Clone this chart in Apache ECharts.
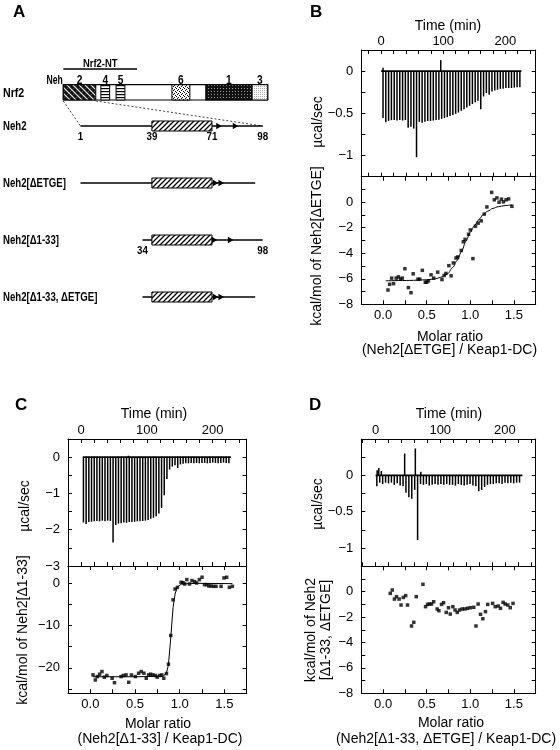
<!DOCTYPE html>
<html><head><meta charset="utf-8">
<script src="https://cdn.jsdelivr.net/npm/echarts@6/dist/echarts.min.js"></script>
<style>html,body{margin:0;padding:0;background:#fff}#c{width:560px;height:750px}</style>
</head><body><div id="c"></div>
<script>
// ---------------- Panel A (schematic) data ----------------
const nrf2Length = 605;
const nrf2Domains = [ // [label, start, end, pattern]
  ['2', 1, 97, 'cross'],
  ['4', 112, 138, 'hstripe'],
  ['5', 157, 183, 'hstripe'],
  ['6', 322, 375, 'stipple'],
  ['1', 422, 559, 'darkdots'],
  ['3', 559, 605, 'lightdots']
];
const nrf2NT = [1, 219];
const constructNames = ['Neh2', 'Neh2[\u0394ETGE]', 'Neh2[\u03941-33]', 'Neh2[\u03941-33, \u0394ETGE]'];
const constructStart = [1, 1, 34, 34];
const constructEnd = [98, 94, 98, 94];
const boxRange = [39, 71];
const constructArrows = [[76.2, 85], [74.4, 77.4], [73.8, 82.4], [74.4, 77.4]];
const residueLabels = [[0, 1, '1'], [0, 39, '39'], [0, 71, '71'], [0, 98, '98'], [2, 34, '34'], [2, 98, '98']];

// ---------------- Axis tick/label values ----------------
const timeLabels = [0, 100, 200];
const timeTicks = [-20, 0, 20, 40, 60, 80, 100, 120, 140, 160, 180, 200, 220, 240];
const ratioLabels = [0, 0.5, 1, 1.5];
const ratioTicks = [0, 0.25, 0.5, 0.75, 1, 1.25, 1.5];
const bPowerLabels = [0, -0.5, -1];
const bPowerTicks = [-1, -0.75, -0.5, -0.25, 0];
const heat8Labels = [0, -2, -4, -6, -8];
const heat8Ticks = [-7, -6, -5, -4, -3, -2, -1, 0, 1];
const cPowerLabels = [0, -1, -2, -3];
const cPowerTicks = [-2.5, -2, -1.5, -1, -0.5, 0];
const cHeatLabels = [0, -10, -20];
const cHeatTicks = [-25, -20, -15, -10, -5, 0];
const dPowerLabels = [0, -0.5, -1];
const dPowerTicks = [-1, -0.75, -0.5, -0.25, 0, 0.25];

// ---------------- Panel B data ----------------
const bTime = [3,7.5,12,16.5,21,25.5,30,34.5,39,43.5,48,52.5,57,61.5,66,70.5,75,79.5,84,88.5,93,97.5,102,106.5,111,115.5,120,124.5,129,133.5,138,142.5,147,151.5,156,160.5,165,169.5,174,178.5,183,187.5,192,196.5,201,205.5,210,214.5,219,223.5];
const bPeak = [-0.555,-0.605,-0.59,-0.58,-0.58,-0.585,-0.58,-0.585,-0.58,-0.67,
  -0.66,-0.68,-1.02,-0.6,-0.61,-0.6,-0.59,-0.59,-0.585,-0.58,
  -0.575,-0.565,-0.555,-0.545,-0.53,-0.52,-0.505,-0.49,-0.47,-0.45,
  -0.43,-0.41,-0.39,-0.37,-0.35,-0.45,-0.3,-0.26,-0.28,-0.24,
  -0.23,-0.22,-0.21,-0.21,-0.2,-0.2,-0.2,-0.195,-0.19,-0.19];
const bUp = [[3, 0.04], [96, 0.13]];
const bBase = [0, 226];
const bRatio = [0.056,0.075,0.098,0.12,0.15,0.176,0.2,0.22,0.25,0.29,0.32,0.345,0.40,0.42,0.45,0.484,0.50,0.52,0.55,0.58,0.626,0.675,0.70,0.72,0.754,0.78,0.806,0.836,0.855,0.896,0.92,0.94,0.98,1.0,1.03,1.06,1.09,1.125,1.16,1.19,1.245,1.275,1.305,1.33,1.357,1.38,1.41,1.44,1.477];
const bHeat = [-6.88,-6.43,-5.95,-6.38,-5.95,-5.85,-6.03,-5.95,-5.21,-6.69,-7.09,-5.61,-6.03,-6.03,-5.34,-6.27,-6.27,-6.16,-5.69,-5.95,-5.48,-6.06,-5.74,-5.58,-4.97,-5.77,-4.76,-4.37,-4.29,-3.78,-3.1,-2.91,-2.51,-2.17,-4.42,-1.88,-1.64,-1.46,-0.93,-0.37,0.77,0.19,0.34,0.0,0.24,0.03,0.19,0.26,-0.32];
const bFitRatio = [0.03,0.3,0.5,0.6,0.68,0.74,0.8,0.85,0.9,0.95,1.0,1.05,1.1,1.15,1.2,1.26,1.32,1.4,1.48];
const bFitHeat = [-6.16,-6.13,-6.08,-6.0,-5.85,-5.6,-5.1,-4.55,-3.85,-3.05,-2.35,-1.8,-1.35,-0.95,-0.7,-0.48,-0.35,-0.26,-0.21];

// ---------------- Panel C data ----------------
const cTime = [3.5,7.6,11.7,15.8,19.9,24,28.1,32.2,36.3,40.4,44.5,48.6,52.7,56.8,60.9,65,69.1,73.2,77.3,81.4,85.5,89.6,93.7,97.8,101.9,106,110.1,114.2,118.3,122.4,126.5,130.6,134.7,138.8,142.9,147,151.1,155.2,159.3,163.4,167.5,171.6,175.7,179.8,183.9,188,192.1,196.2,200.3,204.4,208.5,212.6,216.7,220.8,224.9];
const cPeak = [-1.8,-1.84,-1.79,-1.78,-1.77,-1.76,-1.77,-1.75,-1.77,-1.75,
  -1.76,-2.35,-1.87,-1.83,-1.82,-1.8,-1.81,-1.79,-1.79,-1.78,
  -1.77,-1.77,-1.76,-1.75,-1.73,-1.7,-1.67,-1.63,-1.55,-1.4,
  -1.05,-0.6,-0.34,-0.26,-0.22,-0.3,-0.2,-0.18,-0.17,-0.17,
  -0.16,-0.17,-0.16,-0.17,-0.16,-0.16,-0.17,-0.16,-0.15,-0.16,
  -0.17,-0.16,-0.15,-0.16,-0.17];
const cUp = [[72, 0.04]];
const cBase = [2.5, 228];
const cRatio = [0.03,0.056,0.078,0.104,0.13,0.156,0.185,0.244,0.27,0.344,0.37,0.4,0.43,0.46,0.504,0.54,0.57,0.6,0.626,0.652,0.674,0.7,0.726,0.748,0.774,0.8,0.822,0.852,0.874,0.9,0.926,0.948,0.974,1.015,1.037,1.056,1.08,1.11,1.137,1.167,1.19,1.22,1.25,1.278,1.304,1.326,1.35,1.378,1.407,1.463,1.496,1.526,1.556,1.59];
const cHeat = [-21.67,-22.86,-22.06,-21.5,-20.87,-22.2,-21.8,-22.46,-23.5,-22.06,-21.8,-21.67,-23.4,-21.67,-22.06,-21.27,-20.87,-21.27,-22.46,-21.67,-21.5,-21.67,-21.8,-22.2,-21.8,-21.67,-22.46,-21.35,-19.13,-12.38,-3.97,-1.43,-1.03,0.16,0.08,-0.24,0.79,-0.24,0.56,0.32,0,0.79,1.35,-0.4,-0.4,-0.71,-0.71,-0.79,-0.79,-0.79,1.19,1.35,-1.03,-0.79];
const cFitRatio = [0.03,0.5,0.815,0.852,0.874,0.9,0.926,0.948,0.974,1.02,1.19,1.59];
const cFitHeat = [-22.1,-22.1,-22.0,-21.2,-19.3,-12.9,-5.8,-2.6,-1.0,-0.24,-0.08,-0.16];

// ---------------- Panel D data ----------------
const dTime = [2,6.5,11,15.5,20,24.5,29,33.5,38,42.5,47,51.5,56,60.5,65,69.5,74,78.5,83,87.5,92,96.5,101,105.5,110,114.5,119,123.5,128,132.5,137,141.5,146,150.5,155,159.5,164,168.5,173,177.5,182,186.5,191,195.5,200,204.5,209,213.5,218,222.5];
const dPeak = [-0.15,-0.1,-0.12,-0.1,-0.11,-0.1,-0.13,-0.11,-0.14,-0.15,
  -0.24,-0.3,-0.32,-0.2,-0.89,-0.12,-0.13,-0.12,-0.14,-0.13,
  -0.12,-0.13,-0.12,-0.13,-0.12,-0.13,-0.13,-0.14,-0.12,-0.13,
  -0.14,-0.13,-0.12,-0.14,-0.15,-0.22,-0.2,-0.16,-0.13,-0.12,
  -0.12,-0.11,-0.11,-0.12,-0.1,-0.11,-0.1,-0.11,-0.1,-0.1];
const dUp = [[2.5, 0.07], [5, 0.1], [9, 0.06], [45, 0.3], [61.5, 0.37], [70, 0.05]];
const dBase = [0, 227];
const dRatio = [0.082,0.105,0.13,0.154,0.184,0.206,0.232,0.259,0.28,0.326,0.352,0.38,0.457,0.487,0.51,0.532,0.555,0.58,0.62,0.64,0.67,0.694,0.724,0.75,0.77,0.8,0.825,0.85,0.877,0.907,0.937,0.967,1.0,1.04,1.065,1.09,1.117,1.144,1.174,1.2,1.256,1.286,1.32,1.346,1.376,1.4,1.43,1.458,1.49];
const dHeat = [-0.13,0.13,-0.58,-0.39,-0.58,-1.05,-0.45,-0.31,-1.05,-2.7,-2.41,-0.39,0.58,-1.18,-1.0,-0.97,-0.97,-0.79,-1.36,-1.5,-1.0,-0.87,-1.63,-1.26,-1.76,-1.18,-1.44,-1.63,-1.44,-1.36,-1.36,-1.31,-1.26,-1.23,-2.7,-0.97,-1.78,-2.13,-1.57,-1.0,-0.92,-1.18,-1.13,-1.31,-0.84,-0.97,-1.05,-1.26,-0.92];

// ---------------- helpers ----------------
const FF = "'Liberation Sans', Arial, Helvetica, sans-serif";
const fmtNum = v => v === 0 ? '0' : (v < 0 ? '\u2212' : '') + String(Math.abs(v));
const fmtRatio = v => Number(v).toFixed(1);
const pairs = (xs, ys) => xs.map((x, i) => [x, ys[i]]);

function makePattern(w, h, draw) {
  const c = document.createElement('canvas'); c.width = w; c.height = h;
  const g = c.getContext('2d'); draw(g, w, h);
  return { image: c, repeat: 'repeat' };
}
const patterns = {
  cross: makePattern(6, 6, (g, w, h) => {
    g.fillStyle = '#111'; g.fillRect(0, 0, w, h);
    g.strokeStyle = '#eee'; g.lineWidth = 1.1; g.beginPath();
    g.moveTo(-1, -1); g.lineTo(7, 7); g.moveTo(-4, 2); g.lineTo(2, 8); g.moveTo(2, -4); g.lineTo(8, 2); g.stroke();
    g.strokeStyle = '#777'; g.lineWidth = 0.6; g.beginPath(); g.moveTo(0, 6); g.lineTo(6, 0); g.stroke();
  }),
  hstripe: makePattern(2, 3, (g, w, h) => { g.fillStyle = '#fff'; g.fillRect(0, 0, w, h); g.fillStyle = '#000'; g.fillRect(0, 1, w, 1.2); }),
  stipple: makePattern(4, 4, (g) => { g.fillStyle = '#fff'; g.fillRect(0, 0, 4, 4); g.fillStyle = '#000'; [[0,0],[2,1],[1,2],[3,3]].forEach(p => g.fillRect(p[0], p[1], 1, 1)); }),
  darkdots: makePattern(3, 3, (g) => { g.fillStyle = '#111'; g.fillRect(0, 0, 3, 3); g.fillStyle = '#999'; g.fillRect(1, 1, 1, 1); }),
  lightdots: makePattern(2, 2, (g) => { g.fillStyle = '#fff'; g.fillRect(0, 0, 2, 2); g.fillStyle = '#aaa'; g.fillRect(0, 0, 1, 1); }),
  hatch: makePattern(5, 5, (g) => {
    g.fillStyle = '#fff'; g.fillRect(0, 0, 5, 5); g.strokeStyle = '#000'; g.lineWidth = 1.3; g.beginPath();
    g.moveTo(0, 5); g.lineTo(5, 0); g.moveTo(-1, 1); g.lineTo(1, -1); g.moveTo(4, 6); g.lineTo(6, 4); g.stroke();
  })
};

// condensed bold label for the schematic
function cText(text, x, y, size, sx, align, va) {
  return { type: 'text', x: x, y: y, scaleX: sx, silent: true,
    style: { text: text, x: 0, y: 0, font: 'bold ' + size + 'px ' + FF, fill: '#000',
      align: align, textAlign: align, verticalAlign: va, textVerticalAlign: va } };
}

function frameAxis(grid, min, max, pos, ticks, labels, fmt, margin) {
  return {
    type: 'value', gridIndex: grid, min: min, max: max, position: pos,
    axisLine: { show: true, onZero: false, lineStyle: { color: '#000', width: 1 } },
    splitLine: { show: false },
    axisTick: { show: true, inside: true, length: 4, customValues: ticks, lineStyle: { color: '#000', width: 1 } },
    axisLabel: labels ? { show: true, customValues: labels, formatter: fmt, color: '#000', fontSize: 13, fontFamily: FF, margin: margin } : { show: false },
    axisPointer: { show: false }
  };
}

// grid rectangles
const grids = [
  { left: 63.3, top: 84.7, width: 204.4, height: 15.3 },   // 0 Nrf2 bar
  { left: 80.5, top: 97.5, width: 182.2, height: 228 },    // 1 constructs
  { left: 361.3, top: 50, width: 174.4, height: 126.7 },   // 2 B top
  { left: 361.3, top: 176.7, width: 174.4, height: 127.6 },// 3 B bottom
  { left: 68, top: 439, width: 178.7, height: 127 },       // 4 C top
  { left: 68, top: 566, width: 178.7, height: 127.3 },     // 5 C bottom
  { left: 361.3, top: 439, width: 174.4, height: 127.3 },  // 6 D top
  { left: 361.3, top: 566.3, width: 174.4, height: 127 }   // 7 D bottom
];
const rowLabelX = 3;

const tRangeB = [-32, 249], tRangeC = [-20, 252], tRangeD = [-22, 247.5];
const rRange = [-0.25, 1.75];

const xAxes = [
  { type: 'value', gridIndex: 0, min: 1, max: nrf2Length, show: false },
  { type: 'value', gridIndex: 1, min: 1, max: 98, show: false },
  frameAxis(2, tRangeB[0], tRangeB[1], 'top', timeTicks, timeLabels, fmtNum, 2),
  frameAxis(2, tRangeB[0], tRangeB[1], 'bottom', timeTicks, null),
  frameAxis(3, rRange[0], rRange[1], 'bottom', ratioTicks, ratioLabels, fmtRatio, 5),
  frameAxis(3, rRange[0], rRange[1], 'top', ratioTicks, null),
  frameAxis(4, tRangeC[0], tRangeC[1], 'top', timeTicks, timeLabels, fmtNum, 2),
  frameAxis(4, tRangeC[0], tRangeC[1], 'bottom', timeTicks, null),
  frameAxis(5, rRange[0], rRange[1], 'bottom', ratioTicks, ratioLabels, fmtRatio, 5),
  frameAxis(5, rRange[0], rRange[1], 'top', ratioTicks, null),
  frameAxis(6, tRangeD[0], tRangeD[1], 'top', timeTicks, timeLabels, fmtNum, 2),
  frameAxis(6, tRangeD[0], tRangeD[1], 'bottom', timeTicks, null),
  frameAxis(7, rRange[0], rRange[1], 'bottom', ratioTicks, ratioLabels, fmtRatio, 5),
  frameAxis(7, rRange[0], rRange[1], 'top', ratioTicks, null)
];
const yAxes = [
  { type: 'category', gridIndex: 0, data: ['Nrf2'], show: false },
  { type: 'category', gridIndex: 1, data: constructNames, inverse: true, show: false },
  frameAxis(2, -1.25, 0.25, 'left', bPowerTicks, bPowerLabels, fmtNum, 8),
  frameAxis(2, -1.25, 0.25, 'right', bPowerTicks, null),
  frameAxis(3, -8, 2, 'left', heat8Ticks, heat8Labels, fmtNum, 8),
  frameAxis(3, -8, 2, 'right', heat8Ticks, null),
  frameAxis(4, -3, 0.5, 'left', cPowerTicks, cPowerLabels, fmtNum, 8),
  frameAxis(4, -3, 0.5, 'right', cPowerTicks, null),
  frameAxis(5, -26, 4, 'left', cHeatTicks, cHeatLabels, fmtNum, 8),
  frameAxis(5, -26, 4, 'right', cHeatTicks, null),
  frameAxis(6, -1.25, 0.5, 'left', dPowerTicks, dPowerLabels, fmtNum, 8),
  frameAxis(6, -1.25, 0.5, 'right', dPowerTicks, null),
  frameAxis(7, -8, 2, 'left', heat8Ticks, heat8Labels, fmtNum, 8),
  frameAxis(7, -8, 2, 'right', heat8Ticks, null)
];

function thermoSeries(ax, times, peaks, ups, base) {
  return [
    { type: 'bar', xAxisIndex: ax, yAxisIndex: ax, data: pairs(times, peaks).concat(ups), barWidth: 1.5, itemStyle: { color: '#000' }, silent: true, z: 2 },
    { type: 'line', xAxisIndex: ax, yAxisIndex: ax, data: [[base[0], 0], [base[1], 0]], showSymbol: false, lineStyle: { color: '#000', width: 1.6 }, silent: true, z: 3 }
  ];
}
function isoSeries(ax, rs, hs, fitR, fitH, smooth) {
  const s = [{ type: 'scatter', xAxisIndex: ax, yAxisIndex: ax, data: pairs(rs, hs), symbol: 'rect', symbolSize: 3.5, itemStyle: { color: '#000' }, silent: true, z: 4 }];
  if (fitR) s.push({ type: 'line', xAxisIndex: ax, yAxisIndex: ax, data: pairs(fitR, fitH), showSymbol: false, smooth: smooth, smoothMonotone: 'x', lineStyle: { color: '#000', width: 1 }, silent: true, z: 3 });
  return s;
}

const schematicSeries = [
  { // Nrf2 outer bar
    type: 'custom', xAxisIndex: 0, yAxisIndex: 0, data: [[1, nrf2Length, 0]], encode: { x: [0, 1], y: 2 }, silent: true, z: 1,
    renderItem: (p, api) => {
      const a = api.coord([api.value(0), api.value(2)]), b = api.coord([api.value(1), api.value(2)]);
      const h = api.size([0, 1])[1];
      return { type: 'group', children: [
        { type: 'rect', shape: { x: a[0], y: a[1] - h / 2, width: b[0] - a[0], height: h }, style: { fill: '#fff', stroke: '#000', lineWidth: 1.2 } },
        cText('Neh', a[0] - 0.5, a[1] - h / 2 + 2, 12, 0.72, 'right', 'bottom'),
        cText('Nrf2', rowLabelX, a[1] + 1, 12.5, 0.85, 'left', 'middle')
      ] };
    }
  },
  { // domains
    type: 'custom', xAxisIndex: 0, yAxisIndex: 0, data: nrf2Domains.map(d => [d[1], d[2], 0]), encode: { x: [0, 1], y: 2 }, silent: true, z: 2,
    renderItem: (p, api) => {
      const d = nrf2Domains[p.dataIndex];
      const a = api.coord([api.value(0), api.value(2)]), b = api.coord([api.value(1), api.value(2)]);
      const h = api.size([0, 1])[1];
      return { type: 'group', children: [
        { type: 'rect', shape: { x: a[0], y: a[1] - h / 2, width: b[0] - a[0], height: h }, style: { fill: patterns[d[3]], stroke: '#000', lineWidth: 1 } },
        cText(d[0], (a[0] + b[0]) / 2, a[1] - h / 2 + 2, 12, 0.85, 'center', 'bottom')
      ] };
    }
  },
  { // Nrf2-NT bracket
    type: 'custom', xAxisIndex: 0, yAxisIndex: 0, data: [[nrf2NT[0], nrf2NT[1], 0]], encode: { x: [0, 1], y: 2 }, silent: true, z: 2,
    renderItem: (p, api) => {
      const a = api.coord([api.value(0), api.value(2)]), b = api.coord([api.value(1), api.value(2)]);
      const h = api.size([0, 1])[1];
      const y = a[1] - h / 2 - 15.7;
      return { type: 'group', children: [
        { type: 'line', shape: { x1: a[0], y1: y, x2: b[0], y2: y }, style: { stroke: '#000', lineWidth: 1.5 } },
        cText('Nrf2-NT', (a[0] + b[0]) / 2, y + 1, 11.5, 0.82, 'center', 'bottom')
      ] };
    }
  },
  { // constructs
    type: 'custom', xAxisIndex: 1, yAxisIndex: 1, data: constructNames.map((n, i) => [constructStart[i], constructEnd[i], i]), encode: { x: [0, 1], y: 2 }, silent: true, z: 2,
    renderItem: (p, api) => {
      const row = api.value(2);
      const a = api.coord([api.value(0), row]), b = api.coord([api.value(1), row]);
      const bs = api.coord([boxRange[0], row]), be = api.coord([boxRange[1], row]);
      const y = a[1];
      const kids = [
        { type: 'line', shape: { x1: a[0], y1: y, x2: b[0], y2: y }, style: { stroke: '#000', lineWidth: 1.6 } },
        { type: 'rect', shape: { x: bs[0], y: y - 5, width: be[0] - bs[0], height: 10 }, style: { fill: patterns.hatch, stroke: '#000', lineWidth: 1 } },
        cText(constructNames[p.dataIndex], rowLabelX, y + 1, 12, 0.8, 'left', 'middle')
      ];
      constructArrows[p.dataIndex].forEach(r => {
        const t = api.coord([r, row])[0];
        kids.push({ type: 'polygon', shape: { points: [[t - 5.5, y - 3.2], [t, y], [t - 5.5, y + 3.2]] }, style: { fill: '#000' } });
      });
      return { type: 'group', children: kids };
    }
  },
  { // residue numbers
    type: 'custom', xAxisIndex: 1, yAxisIndex: 1, data: residueLabels.map(d => [d[1], d[0]]), encode: { x: 0, y: 1 }, silent: true, z: 2,
    renderItem: (p, api) => {
      const c = api.coord([api.value(0), api.value(1)]);
      return cText(residueLabels[p.dataIndex][2], c[0], c[1] + 5, 11.5, 0.85, 'center', 'top');
    }
  }
];

const series = [].concat(
  schematicSeries,
  thermoSeries(2, bTime, bPeak, bUp, bBase),
  isoSeries(4, bRatio, bHeat, bFitRatio, bFitHeat, 0.3),
  thermoSeries(6, cTime, cPeak, cUp, cBase),
  isoSeries(8, cRatio, cHeat, cFitRatio, cFitHeat, false),
  thermoSeries(10, dTime, dPeak, dUp, dBase),
  isoSeries(12, dRatio, dHeat, null, null, false)
);

const chart = echarts.init(document.getElementById('c'), null, { renderer: 'canvas' });
chart.setOption({
  animation: false,
  backgroundColor: '#fff',
  textStyle: { fontFamily: FF },
  grid: grids,
  xAxis: xAxes,
  yAxis: yAxes,
  series: series
});

// ---------------- text & dashed zoom lines ----------------
function txt(text, x, y, size, opts) {
  opts = opts || {};
  return {
    type: 'text', x: x, y: y, rotation: opts.rot ? Math.PI / 2 : 0, silent: true,
    style: { text: text, font: (opts.bold ? 'bold ' : '') + size + 'px ' + FF, fill: '#000',
      align: opts.align || 'center', textAlign: opts.align || 'center',
      verticalAlign: opts.va || 'middle', textVerticalAlign: opts.va || 'middle' }
  };
}
const nStart = chart.convertToPixel({ xAxisIndex: 0, yAxisIndex: 0 }, [nrf2Domains[0][1], 0]);
const nEnd = chart.convertToPixel({ xAxisIndex: 0, yAxisIndex: 0 }, [nrf2Domains[0][2], 0]);
const barBottom = nStart[1] + grids[0].height / 2;
const cS = chart.convertToPixel({ xAxisIndex: 1, yAxisIndex: 1 }, [constructStart[0], 0]);
const cE = chart.convertToPixel({ xAxisIndex: 1, yAxisIndex: 1 }, [constructEnd[0], 0]);
const dash = { stroke: '#444', lineWidth: 1, lineDash: [2, 2] };

chart.setOption({
  graphic: [
    { type: 'line', silent: true, shape: { x1: nStart[0], y1: barBottom + 1, x2: cS[0], y2: cS[1] }, style: dash },
    { type: 'line', silent: true, shape: { x1: nEnd[0], y1: barBottom + 1, x2: cE[0], y2: cE[1] }, style: dash },
    txt('A', 13, 4, 17, { bold: true, align: 'left', va: 'top' }),
    txt('B', 310, 4, 17, { bold: true, align: 'left', va: 'top' }),
    txt('C', 15, 397, 17, { bold: true, align: 'left', va: 'top' }),
    txt('D', 309, 397, 17, { bold: true, align: 'left', va: 'top' }),
    // B
    txt('Time (min)', 448, 26, 14),
    txt('\u00B5cal/sec', 318, 122, 14, { rot: true }),
    txt('kcal/mol of Neh2[\u0394ETGE]', 317, 246, 14, { rot: true }),
    txt('Molar ratio', 450, 336.7, 14),
    txt('(Neh2[\u0394ETGE] / Keap1-DC)', 449.5, 350.5, 14),
    // C
    txt('Time (min)', 154, 414.5, 14),
    txt('\u00B5cal/sec', 25, 506, 14, { rot: true }),
    txt('kcal/mol of Neh2[\u03941-33]', 23.5, 630, 14, { rot: true }),
    txt('Molar ratio', 158, 724, 14),
    txt('(Neh2[\u03941-33] / Keap1-DC)', 160, 739, 14),
    // D
    txt('Time (min)', 449, 414.5, 14),
    txt('\u00B5cal/sec', 318, 504, 14, { rot: true }),
    txt('kcal/mol of Neh2', 311, 630, 14, { rot: true }),
    txt('[\u03941-33, \u0394ETGE]', 326, 630, 14, { rot: true }),
    txt('Molar ratio', 451, 723, 14),
    txt('(Neh2[\u03941-33, \u0394ETGE] / Keap1-DC)', 446, 739, 14)
  ]
});
</script>
</body></html>
